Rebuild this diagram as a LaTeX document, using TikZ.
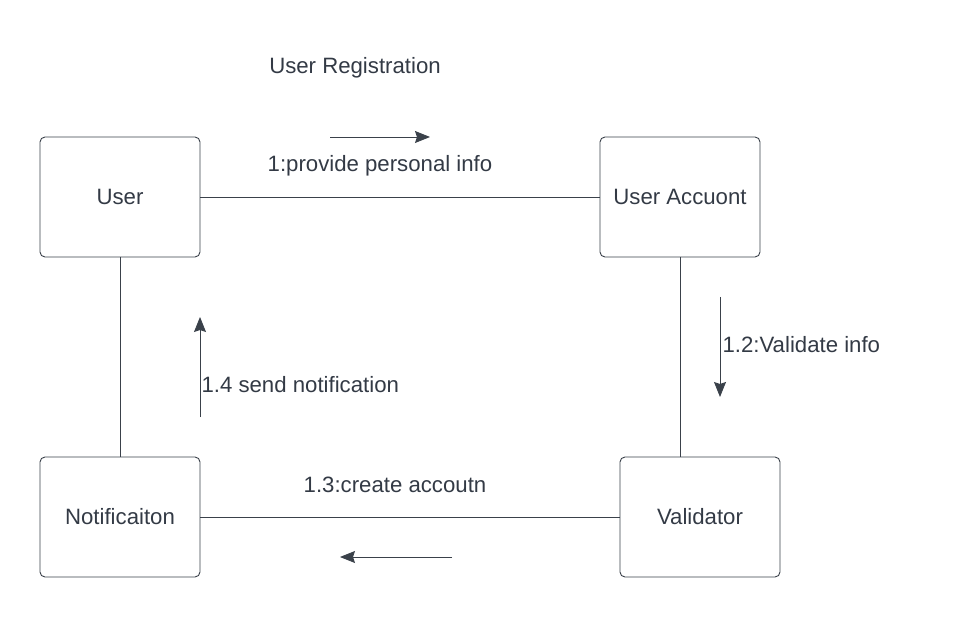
\documentclass[tikz,border=0pt]{standalone}
\usepackage{fontspec}
\setmainfont{Liberation Sans}
\usetikzlibrary{arrows.meta}
\definecolor{ln}{HTML}{3A414A}
\definecolor{tx}{HTML}{333A45}

\begin{document}
\begin{tikzpicture}[
  x=1pt,y=-1pt,
  font=\fontsize{22.2}{26}\selectfont,
  obj/.style={draw=ln,rounded corners=5pt,minimum width=160pt,minimum height=120pt,text=tx,line width=0.9pt},
  lbl/.style={text=tx},
  msg/.style={draw=ln,line width=0.9pt,->},
  >={Stealth[length=15pt,width=12pt,inset=2pt]}
]
\useasboundingbox (0,0) rectangle (961,617);
% objects
\node[obj] (user) at (120,197) {User};
\node[obj] (acct) at (680,197) {User Accuont};
\node[obj] (notif) at (120,517) {Notificaiton};
\node[obj] (valid) at (700,517) {Validator};
% links
\draw[ln,line width=0.9pt] (user) -- (acct);
\draw[ln,line width=0.9pt] (user) -- (notif);
\draw[ln,line width=0.9pt] (acct.south) -- (acct.south |- valid.north);
\draw[ln,line width=0.9pt] (notif) -- (valid);
% message arrows
\coordinate (m1a) at (330,137);
\coordinate (m1b) at (430,137);
\coordinate (m2a) at (720,297);
\coordinate (m2b) at (720,397);
\coordinate (m3a) at (452,557);
\coordinate (m3b) at (340,557);
\coordinate (m4a) at (200,417);
\coordinate (m4b) at (200,317);
\draw[msg] (m1a) -- (m1b);
\draw[msg] (m2a) -- (m2b);
\draw[msg] (m3a) -- (m3b);
\draw[msg] (m4a) -- (m4b);
% labels
\node[lbl] (title) at (355,68) {User Registration};
\node[lbl] (l1) at (380,166) {1:provide personal info};
\node[lbl,anchor=west] (l2) at (719,345) {1.2:Validate info};
\node[lbl,anchor=west] (l4) at (198,385) {1.4 send notification};
\node[lbl] (l3) at (395,485) {1.3:create accoutn};
\end{tikzpicture}
\end{document}
